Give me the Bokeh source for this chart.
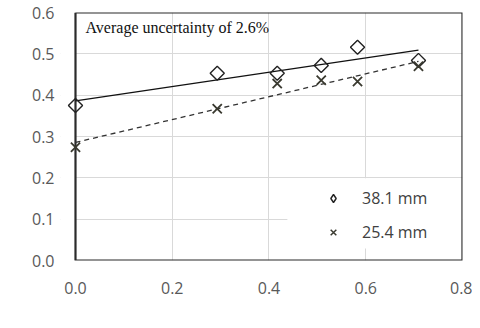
import numpy as np
from bokeh.plotting import figure
from bokeh.models import (Range1d, FixedTicker, NumeralTickFormatter, Label,
                          Legend, LegendItem, BoxAnnotation, ColumnDataSource)
from bokeh.embed import file_html
from bokeh.resources import INLINE

# ---- data ----
x_38 = [0.0, 0.293, 0.417, 0.508, 0.583, 0.709]
y_38 = [0.375, 0.453, 0.453, 0.472, 0.516, 0.484]
x_25 = [0.0, 0.293, 0.417, 0.508, 0.583, 0.709]
y_25 = [0.274, 0.367, 0.428, 0.436, 0.433, 0.470]
series_names = ["38.1 mm", "25.4 mm"]
x_ticks = [0.0, 0.2, 0.4, 0.6, 0.8]
y_ticks = [0.0, 0.1, 0.2, 0.3, 0.4, 0.5, 0.6]
note_text = "Average uncertainty of 2.6%"

SANS = "Open Sans"
TICK_COLOR = "#595959"
EDGE = "#2b2b2b"

# x range starts a little left of 0 so the markers at x=0 are not clipped;
# the strip left of 0 is masked white and the plot box is drawn at 0..0.8
X0 = -0.031
p = figure(width=472, height=320, output_backend="svg", toolbar_location=None,
           x_range=Range1d(X0, 0.8), y_range=Range1d(0, 0.6),
           min_border_left=60, min_border_right=10, min_border_top=12, min_border_bottom=60)
p.background_fill_color = "white"
p.border_fill_color = "white"
p.outline_line_color = None

for ax, ticks in ((p.xaxis, x_ticks), (p.yaxis, y_ticks)):
    ax.ticker = FixedTicker(ticks=ticks)
    ax.formatter = NumeralTickFormatter(format="0.0")
    ax.axis_line_color = None
    ax.major_tick_line_color = None
    ax.minor_tick_line_color = None
    ax.major_label_text_font = SANS
    ax.major_label_text_font_size = "16px"
    ax.major_label_text_color = TICK_COLOR
p.xaxis.major_label_standoff = 15
p.yaxis.major_label_standoff = 0

p.xgrid.ticker = FixedTicker(ticks=x_ticks)
p.ygrid.ticker = FixedTicker(ticks=y_ticks)
p.grid.grid_line_color = "#d9d9d9"
p.grid.grid_line_width = 1

# white strip left of x=0
p.add_layout(BoxAnnotation(right=0.0, fill_color="white", fill_alpha=1,
                           line_color=None, level="underlay"))
# mask behind the legend (hides gridlines there)
p.add_layout(BoxAnnotation(left=0.438, right=0.8, bottom=0.029, top=0.199,
                           fill_color="white", fill_alpha=1, line_color=None,
                           level="underlay"))

# plot box spanning the axis limits
bx0, bx1 = x_ticks[0], x_ticks[-1]
by0, by1 = y_ticks[0], y_ticks[-1]
p.line([bx0, bx0, bx1, bx1, bx0], [by1, by0, by0, by1, by1],
       line_color=EDGE, line_width=2.2)

# ---- trend lines (least-squares fit of each series) ----
for xs, ys, dash, col in ((x_38, y_38, "solid", "#111111"), (x_25, y_25, "5 4", "#333333")):
    k, b = np.polyfit(xs, ys, 1)
    xe = [min(xs), max(xs)]
    p.line(xe, [k * v + b for v in xe], line_color=col, line_width=1.3, line_dash=dash)

# ---- markers ----
src38 = ColumnDataSource(dict(x=x_38, y=y_38))
src25 = ColumnDataSource(dict(x=x_25, y=y_25))
p.scatter("x", "y", source=src38, marker="square", size=10, angle=np.pi / 4,
          fill_color=None, line_color="#222222", line_width=1.4)
p.scatter("x", "y", source=src25, marker="x", size=13,
          line_color="#3a3a30", line_width=1.8)

# legend proxies (smaller glyphs, as in the original legend)
nan_src = ColumnDataSource(dict(x=[np.nan], y=[np.nan]))
leg38 = p.scatter("x", "y", source=nan_src, marker="diamond", size=11,
                  fill_color=None, line_color="#222222", line_width=1.4)
leg25 = p.scatter("x", "y", source=nan_src, marker="x", size=8,
                  line_color="#3a3a30", line_width=1.5)
legend = Legend(items=[LegendItem(label=series_names[0], renderers=[leg38]),
                       LegendItem(label=series_names[1], renderers=[leg25])],
                location=(263, 17), margin=0, padding=10, spacing=12,
                glyph_width=20, glyph_height=20, label_height=20, label_standoff=19,
                label_text_font=SANS, label_text_font_size="16px",
                label_text_color="#404040",
                background_fill_alpha=0, border_line_color=None)
p.add_layout(legend)

# ---- texts ----
def dx(px):
    return (px - 75) / 483.75

def dy(py):
    return (260 - py) / 413.3

p.add_layout(Label(x=dx(85), y=dy(27), text=note_text, text_font="Liberation Serif",
                   text_font_size="16px", text_color="#111111", text_baseline="middle"))

# y axis title V_c (rotated)
p.add_layout(Label(x=dx(12.5), y=dy(140.5), text="V",
                   angle=np.pi / 2, text_font=SANS, text_font_size="12px",
                   text_color="#333333", text_align="center", text_baseline="middle"))
p.add_layout(Label(x=dx(17), y=dy(133), text="c",
                   angle=np.pi / 2, text_font=SANS, text_font_size="8px",
                   text_color="#333333", text_align="center", text_baseline="middle"))
# x axis title sinθ^(1/2)
p.add_layout(Label(x=dx(266), y=dy(310.5), text="sinθ",
                   text_font=SANS, text_font_size="14px", text_color="#333333",
                   text_align="center", text_baseline="middle"))
p.add_layout(Label(x=dx(290.5), y=dy(306), text="1/2",
                   text_font=SANS, text_font_size="10px", text_color="#333333",
                   text_align="center", text_baseline="middle"))

open("out.html", "w").write(file_html(p, INLINE))
